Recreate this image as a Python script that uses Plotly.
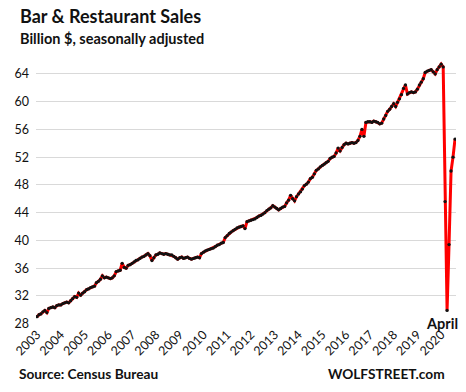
import pandas as pd
import plotly.graph_objects as go

# Monthly sales, billion $, seasonally adjusted (Jan 2003 - Aug 2020)
sales_2003 = [29.0, 29.3, 29.4, 29.7, 29.9, 29.6, 30.2, 30.3, 30.4, 30.3, 30.6, 30.7]
sales_2004 = [30.7, 30.9, 31.0, 31.1, 31.0, 31.3, 31.6, 31.9, 31.8, 32.4, 32.1, 32.4]
sales_2005 = [32.6, 32.9, 33.0, 33.2, 33.3, 33.4, 33.9, 34.1, 34.4, 34.9, 34.6, 34.7]
sales_2006 = [34.6, 34.5, 34.6, 34.9, 35.5, 35.6, 35.7, 36.7, 36.1, 36.0, 36.4, 36.5]
sales_2007 = [36.7, 36.9, 37.1, 37.2, 37.4, 37.6, 37.7, 37.9, 38.1, 37.8, 37.1, 37.5]
sales_2008 = [37.9, 38.0, 38.2, 38.1, 38.0, 38.1, 38.0, 37.9, 37.9, 37.7, 37.5, 37.3]
sales_2009 = [37.5, 37.6, 37.4, 37.5, 37.6, 37.4, 37.3, 37.4, 37.5, 37.6, 37.5, 38.1]
sales_2010 = [38.3, 38.5, 38.6, 38.7, 38.8, 38.9, 39.1, 39.3, 39.4, 39.6, 39.7, 40.4]
sales_2011 = [40.7, 41.0, 41.2, 41.4, 41.6, 41.8, 41.9, 42.0, 42.1, 41.7, 42.7, 42.8]
sales_2012 = [42.9, 43.0, 43.1, 43.3, 43.5, 43.6, 43.8, 44.0, 44.3, 44.5, 44.7, 45.0]
sales_2013 = [44.8, 44.6, 44.4, 44.6, 44.8, 44.9, 45.4, 45.8, 46.5, 46.0, 45.7, 46.3]
sales_2014 = [46.7, 47.0, 47.4, 47.9, 48.1, 48.4, 48.9, 49.1, 49.6, 50.1, 50.3, 50.6]
sales_2015 = [50.8, 51.0, 51.2, 51.4, 51.8, 52.0, 52.1, 52.6, 53.3, 52.9, 53.4, 53.8]
sales_2016 = [54.0, 53.9, 54.0, 54.1, 54.0, 54.1, 54.4, 55.0, 56.0, 55.0, 57.0, 57.1]
sales_2017 = [57.1, 57.0, 57.2, 57.1, 57.0, 56.8, 56.9, 57.5, 58.0, 58.6, 58.9, 59.3]
sales_2018 = [59.7, 59.3, 59.9, 60.4, 61.0, 61.9, 62.4, 61.1, 61.3, 61.4, 61.3, 61.4]
sales_2019 = [61.8, 62.4, 62.8, 63.3, 64.2, 64.4, 64.5, 64.6, 64.3, 64.0, 64.6, 65.0]
sales_2020 = [65.4, 65.0, 45.6, 29.9, 39.4, 50.0, 52.0, 54.6]

y_ticks = [28, 32, 36, 40, 44, 48, 52, 56, 60, 64]
year_labels = [str(y) for y in range(2003, 2021)]

values = (sales_2003 + sales_2004 + sales_2005 + sales_2006 + sales_2007 + sales_2008
          + sales_2009 + sales_2010 + sales_2011 + sales_2012 + sales_2013 + sales_2014
          + sales_2015 + sales_2016 + sales_2017 + sales_2018 + sales_2019 + sales_2020)
dates = pd.date_range("2003-01-01", periods=len(values), freq="MS")

FONT = "Lato"
TXT = "#111111"

fig = go.Figure()
fig.add_trace(go.Scatter(
    x=dates, y=values, mode="lines+markers",
    line=dict(color="#ff0000", width=3),
    marker=dict(color="#111111", size=3.3),
    hoverinfo="skip", showlegend=False,
))

fig.update_layout(
    width=466, height=392,
    margin=dict(l=36, r=10, t=60, b=68),
    paper_bgcolor="white", plot_bgcolor="white",
    font=dict(family=FONT, color=TXT, size=12),
    xaxis=dict(
        type="date",
        range=["2002-12-16", "2020-08-16"],
        tickvals=[f"{y}-01-01" for y in year_labels],
        ticktext=year_labels,
        tickangle=-45,
        showgrid=False, zeroline=False, showline=False,
        tickfont=dict(family=FONT, size=12.5, color=TXT),
        ticks="", automargin=False,
    ),
    yaxis=dict(
        range=[27.95, 66],
        tickvals=y_ticks,
        ticktext=[str(v) for v in y_ticks],
        showgrid=True, gridcolor="#d9d9d9", gridwidth=1,
        zeroline=False, showline=False,
        tickfont=dict(family=FONT, size=12.5, color=TXT),
        ticks="", ticklabelstandoff=6, automargin=False,
    ),
)

fig.add_annotation(text="<b>Bar & Restaurant Sales</b>", xref="paper", yref="paper",
                   x=(18 - 36) / 420, y=(324 - 16) / 264, xanchor="left", yanchor="middle",
                   showarrow=False, font=dict(family=FONT, size=18, color=TXT))
fig.add_annotation(text="<b>Billion $, seasonally adjusted</b>", xref="paper", yref="paper",
                   x=(18 - 36) / 420, y=(324 - 39) / 264, xanchor="left", yanchor="middle",
                   showarrow=False, font=dict(family=FONT, size=14.5, color=TXT))
fig.add_annotation(text="<b>Source: Census Bureau</b>", xref="paper", yref="paper",
                   x=(17 - 36) / 420, y=(324 - 373) / 264, xanchor="left", yanchor="middle",
                   showarrow=False, font=dict(family=FONT, size=13.7, color=TXT))
fig.add_annotation(text="<b>WOLFSTREET.com</b>", xref="paper", yref="paper",
                   x=(447 - 36) / 420, y=(324 - 373) / 264, xanchor="right", yanchor="middle",
                   showarrow=False, font=dict(family=FONT, size=13.7, color=TXT))
fig.add_annotation(text="<b>April</b>", xref="x", yref="y",
                   x=dates[207], y=28, xanchor="center", yanchor="middle", xshift=-5,
                   showarrow=False, font=dict(family=FONT, size=14.5, color=TXT))

fig.write_html("out.html", config={"displayModeBar": False},
               post_script="document.body.style.margin='0';document.body.style.padding='0';")
